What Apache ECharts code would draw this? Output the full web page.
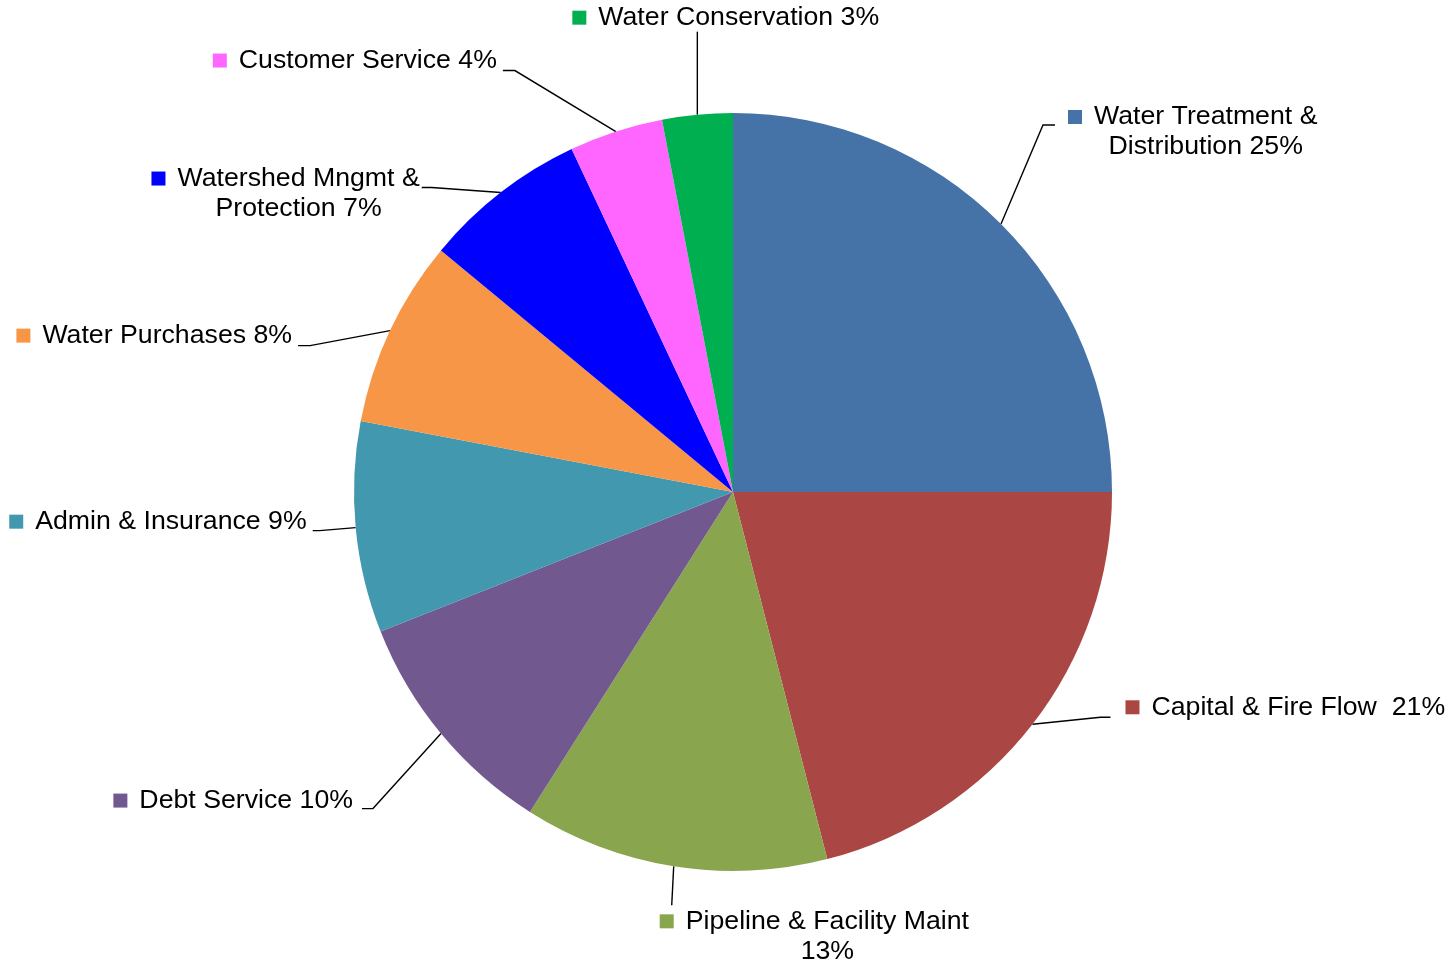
<!DOCTYPE html>
<html>
<head>
<meta charset="utf-8">
<title>Water budget pie</title>
<script src="https://cdn.jsdelivr.net/npm/echarts@6/dist/echarts.min.js"></script>
<style>
  html, body { margin: 0; padding: 0; background: #fff; }
  #chart { width: 1451px; height: 963px; }
</style>
</head>
<body>
<div id="chart"></div>
<script>
  // slice names ('\n' marks where the label wraps)
  const categories = [
    'Water Treatment &\nDistribution',
    'Capital & Fire Flow ',
    'Pipeline & Facility Maint\n',
    'Debt Service',
    'Admin & Insurance',
    'Water Purchases',
    'Watershed Mngmt &\nProtection',
    'Customer Service',
    'Water Conservation'
  ]
  const values = [25, 21, 13, 10, 9, 8, 7, 4, 3]
  const colors = ['#4572A7', '#AA4643', '#89A54E', '#71588F', '#4198AF', '#F79646', '#0000FF', '#FF66FF', '#00B050']

  // leader line shape per slice: [dx to elbow, dy to elbow, horizontal run, label dx, label dy, label align]
  const leaders = [
    [42, -99, 12, 13, 7, 'left'],
    [68, -7, 10, 15, -10, 'left'],
    [-2, 39, 0, -12, 31, 'left'],
    [-68, 75, -11, -9, -8, 'right'],
    [-36, 3, -7, -6, -9, 'right'],
    [-80, 15, -12, -6, -10, 'right'],
    [-69, -5, -10, -2, 6, 'right'],
    [-101, -61, -12, -6, -10, 'right'],
    [0, -83, 0, -125, -14, 'left']
  ]

  const fontFamily = '"Liberation Sans", Arial, sans-serif'

  function labelText(name, value) {
    const sep = name.endsWith('\n') ? '' : ' '
    const lines = (name + sep + value + '%').split('\n')
    return lines.map((l, i) => (i === 0 ? '{sq|}{gap|}' : '{pad|}') + '{t|' + l + '}').join('\n')
  }

  const chart = echarts.init(document.getElementById('chart'))

  chart.setOption({
    animation: false,
    backgroundColor: '#fff',
    series: [
      {
        type: 'pie',
        center: [733, 492],
        radius: 379,
        startAngle: 90,
        clockwise: true,
        avoidLabelOverlap: false,
        itemStyle: { borderWidth: 0 },
        label: {
          show: true,
          position: 'outside',
          color: '#000',
          fontFamily: fontFamily,
          fontSize: 26.7,
          formatter: p => labelText(p.name, p.value)
        },
        labelLine: {
          show: true,
          length: 8,
          length2: 8,
          smooth: false,
          lineStyle: { color: '#000', width: 1.4 }
        },
        labelLayout: function (p) {
          const L = leaders[p.dataIndex]
          const e = p.labelLinePoints[0]
          const elbow = [e[0] + L[0], e[1] + L[1]]
          const end = [elbow[0] + L[2], elbow[1]]
          return {
            x: end[0] + L[3],
            y: end[1] + L[4],
            align: L[5],
            verticalAlign: 'middle',
            labelLinePoints: [e, elbow, end]
          }
        },
        data: categories.map((name, i) => ({
          name: name,
          value: values[i],
          itemStyle: { color: colors[i] },
          label: {
            rich: {
              sq: { width: 14, height: 14, backgroundColor: colors[i], align: 'center' },
              gap: { width: 12, align: 'center' },
              pad: { width: 26, align: 'center' },
              t: {
                color: '#000',
                fontFamily: fontFamily,
                fontSize: 26.7,
                lineHeight: 30,
                align: 'center'
              }
            }
          }
        }))
      }
    ]
  })
</script>
</body>
</html>
